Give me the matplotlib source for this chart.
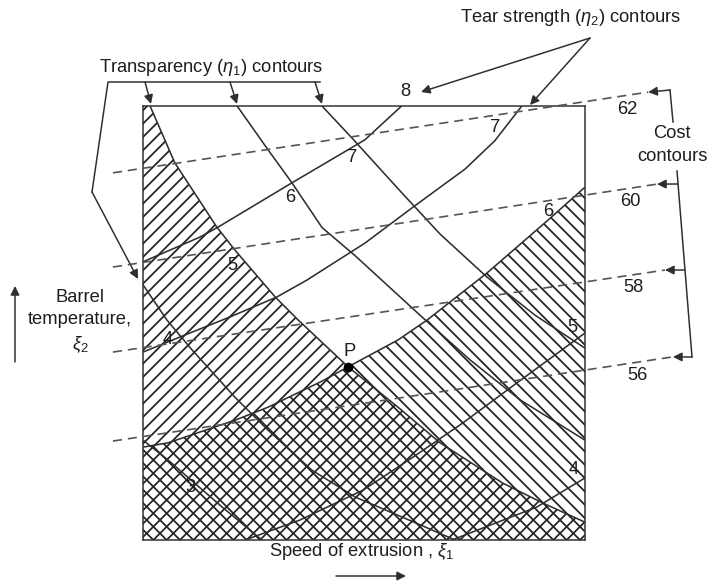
import matplotlib
matplotlib.use("Agg")
import matplotlib.pyplot as plt
from matplotlib.patches import Polygon
from matplotlib.lines import Line2D
from matplotlib.transforms import Affine2D

plt.rcParams['font.family'] = ['Liberation Sans', 'DejaVu Sans']
plt.rcParams['mathtext.fontset'] = 'custom'
plt.rcParams['mathtext.rm'] = 'Liberation Sans'
plt.rcParams['mathtext.it'] = 'Liberation Sans:italic'
plt.rcParams['hatch.linewidth'] = 1.05
plt.rcParams['hatch.color'] = '#222222'

# ---------------- data (x: speed of extrusion, y: barrel temperature, 0-100) -------------
# Transparency (eta1) contours
eta1_levels = [3, 4, 5, 6, 7]
eta1_3_x = [0, 5.7, 17.9, 26.9]
eta1_3_y = [23.0, 18.4, 7.6, 0]
eta1_4_x = [0, 5.4, 11.1, 20.8, 28.3, 38.2, 48.0, 62.7, 70.6]
eta1_4_y = [58.8, 50.7, 43.8, 32.9, 25.3, 16.1, 9.9, 3.5, 0]
eta1_5_x = [1.6, 7.2, 16.7, 20.8, 29.9, 35.1, 46.4, 57.7, 67.2, 81.4, 90.5, 100]
eta1_5_y = [100, 86.9, 72.1, 66.8, 56.0, 50.7, 39.9, 30.6, 22.4, 13.1, 8.5, 4.1]
eta1_6_x = [21.3, 28.3, 33.7, 40.5, 48.0, 63.1, 74.0, 85.3, 100]
eta1_6_y = [100, 89.9, 82.3, 72.0, 65.5, 51.4, 41.5, 32.3, 23.0]
eta1_7_x = [40.5, 47.3, 58.1, 67.2, 77.8, 88.7, 100]
eta1_7_y = [100, 92.6, 80.5, 70.5, 60.6, 51.8, 44.2]

# Tear strength (eta2) contours
eta2_levels = [4, 5, 6, 7, 8]
eta2_4_x = [69.9, 89.1, 100]
eta2_4_y = [0, 7.6, 14.3]
eta2_5_x = [23.1, 35.5, 49.8, 61.1, 72.4, 84.6, 100]
eta2_5_y = [0, 4.6, 11.5, 19.1, 27.0, 36.2, 47.7]
eta2_6_x = [0, 5.7, 20.8, 28.3, 40.5, 46.4, 57.7, 64.3, 77.8, 91.4, 100]
eta2_6_y = [21.4, 22.4, 27.6, 30.6, 36.6, 39.9, 46.1, 50.7, 61.5, 73.5, 81.3]
eta2_7_x = [0, 7.7, 19.7, 30.3, 37.1, 50.2, 61.1, 72.9, 79.6, 85.7]
eta2_7_y = [43.3, 46.5, 51.4, 56.0, 59.9, 68.4, 76.7, 85.5, 92.0, 100]
eta2_8_x = [0, 12.9, 17.0, 33.7, 50.2, 58.5]
eta2_8_y = [64.1, 69.8, 72.1, 82.3, 92.2, 100]

# Cost contours (straight dashed lines)
cost_levels = [56, 58, 60, 62]
cost_x0 = [-6.8, -6.8, -6.8, -6.8]
cost_y0 = [22.8, 43.3, 62.9, 84.6]
cost_x1 = [119.9, 118.1, 116.3, 114.3]
cost_y1 = [42.2, 62.2, 82.0, 103.2]

# Optimum point P
p_x, p_y = 46.4, 39.9

# ---------------- figure ----------------
W, H, DPI = 708, 582, 120
LINE = '#2e2e2e'
TXT = '#1e1e1e'
DASH = '#555555'

fig = plt.figure(figsize=(W / DPI, H / DPI), dpi=DPI)
fig.patch.set_facecolor('white')
ax = fig.add_axes([143 / W, 1 - 540 / H, 442 / W, 434 / H])
ax.set_xlim(0, 100)
ax.set_ylim(0, 100)
ax.set_xticks([])
ax.set_yticks([])
for s in ax.spines.values():
    s.set_color(LINE)
    s.set_linewidth(0.9)

# pixel transform (image coordinates, y downward)
pxT = Affine2D().scale(1 / W, -1 / H).translate(0, 1) + fig.transFigure

# hatched regions
t_poly = list(zip(eta1_5_x, eta1_5_y)) + [(100, 0), (0, 0), (0, 100)]
ax.add_patch(Polygon(t_poly, closed=True, facecolor='none', edgecolor='#222222',
                     lw=0, hatch='///', zorder=1))
s_poly = list(zip(eta2_6_x, eta2_6_y)) + [(100, 0), (0, 0)]
ax.add_patch(Polygon(s_poly, closed=True, facecolor='none', edgecolor='#222222',
                     lw=0, hatch='\\\\\\', zorder=1))

# contour curves
eta1_curves = [(eta1_3_x, eta1_3_y), (eta1_4_x, eta1_4_y), (eta1_5_x, eta1_5_y),
               (eta1_6_x, eta1_6_y), (eta1_7_x, eta1_7_y)]
eta2_curves = [(eta2_4_x, eta2_4_y), (eta2_5_x, eta2_5_y), (eta2_6_x, eta2_6_y),
               (eta2_7_x, eta2_7_y), (eta2_8_x, eta2_8_y)]
for xs, ys in eta1_curves + eta2_curves:
    ax.plot(xs, ys, color=LINE, lw=0.95, zorder=3, solid_capstyle='butt')

# cost lines
for x0, y0, x1, y1 in zip(cost_x0, cost_y0, cost_x1, cost_y1):
    ax.plot([x0, x1], [y0, y1], color=DASH, lw=1.0, ls=(0, (5.5, 3.5)),
            clip_on=False, zorder=4)

# point P
ax.plot([p_x], [p_y], 'o', color='black', ms=4.8, zorder=6)

FS = 11
fig.text(350 / W, 1 - 351 / H, 'P', fontsize=FS, color=TXT, ha='center', va='center')

# contour labels
eta1_label_pos = [(190, 488), (168, 340), (232, 265), (290, 198), (352, 158)]
for lv, (x, y) in zip(eta1_levels, eta1_label_pos):
    ax.text(x, y, str(lv), transform=pxT, fontsize=FS, color=TXT, ha='center', va='center', zorder=5)
eta2_label_pos = [(574, 470), (572, 327), (548, 212), (495, 127), (405, 92)]
for lv, (x, y) in zip(eta2_levels, eta2_label_pos):
    ax.text(x, y, str(lv), transform=pxT, fontsize=FS, color=TXT, ha='center', va='center', zorder=5)
cost_label_pos = [(637, 375), (633, 288), (630, 201), (627, 109)]
for lv, (x, y) in zip(cost_levels, cost_label_pos):
    ax.text(x, y, str(lv), transform=pxT, fontsize=FS, color=TXT, ha='center', va='center')

arrow_kw = dict(arrowstyle='-|>', color=LINE, lw=0.9, mutation_scale=11,
                shrinkA=0, shrinkB=0)

def pline(xs, ys):
    fig.add_artist(Line2D(xs, ys, transform=pxT, color=LINE, lw=0.9))

def parrow(x0, y0, x1, y1):
    ax.annotate('', xy=(x1, y1), xycoords=pxT, xytext=(x0, y0), textcoords=pxT,
                arrowprops=arrow_kw, annotation_clip=False)

# Transparency annotation
fig.text(211 / W, 1 - 68 / H, r'Transparency ($\eta_1$) contours', fontsize=FS,
         color=TXT, ha='center', va='center')
pline([320, 108, 92], [82, 82, 192])
parrow(92, 192, 138, 279)
parrow(145, 82, 151, 104)
parrow(230, 82, 237, 104)
parrow(315, 82, 322, 104)

# Tear strength annotation
fig.text(571 / W, 1 - 18 / H, r'Tear strength ($\eta_2$) contours', fontsize=FS,
         color=TXT, ha='center', va='center')
parrow(590, 38, 421, 92)
parrow(590, 38, 530, 105)

# Cost annotation
fig.text(672 / W, 1 - 134 / H, 'Cost', fontsize=FS, color=TXT, ha='center', va='center')
fig.text(672 / W, 1 - 157 / H, 'contours', fontsize=FS, color=TXT, ha='center', va='center')
pline([673, 670], [122, 90])
pline([677, 692], [171, 357])
bracket_pts = [(692, 357), (685, 270), (678, 184), (670, 90)]
for (bx, by), x1, y1 in zip(bracket_pts, cost_x1, cost_y1):
    ax.annotate('', xy=(x1, y1), xycoords='data', xytext=(bx, by), textcoords=pxT,
                arrowprops=arrow_kw, annotation_clip=False)

# Axis descriptions
fig.text(80 / W, 1 - 298 / H, 'Barrel', fontsize=FS, color=TXT, ha='center', va='center')
fig.text(80 / W, 1 - 320 / H, 'temperature,', fontsize=FS, color=TXT, ha='center', va='center')
fig.text(80 / W, 1 - 345 / H, r'$\xi_2$', fontsize=FS, color=TXT, ha='center', va='center')
parrow(15, 362, 15, 286)

fig.text(362 / W, 1 - 552 / H, r'Speed of extrusion , $\xi_1$', fontsize=FS, color=TXT,
         ha='center', va='center')
parrow(336, 576, 406, 576)

fig.savefig('out.png', dpi=DPI, facecolor='white')
